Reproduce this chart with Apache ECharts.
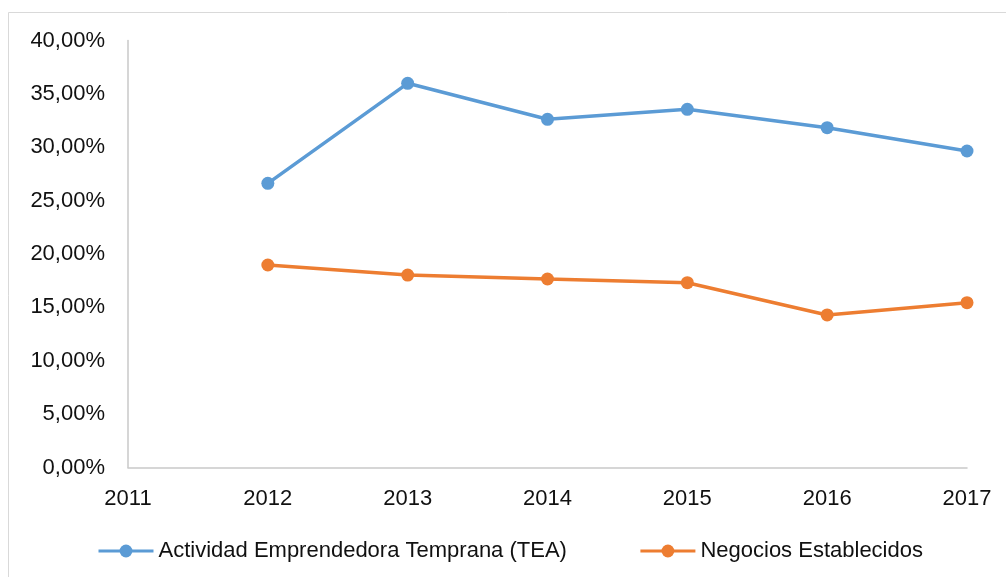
<!DOCTYPE html>
<html>
<head>
<meta charset="utf-8">
<script src="https://cdn.jsdelivr.net/npm/echarts@6/dist/echarts.min.js"></script>
<style>
html,body{margin:0;padding:0;background:#fff;}
#c{width:1006px;height:577px;}
</style>
</head>
<body>
<div id="c"></div>
<script>
const years = ['2011','2012','2013','2014','2015','2016','2017'];
const teaValues = [null, 26.62, 35.99, 32.62, 33.55, 31.83, 29.65];
const negociosValues = [null, 18.97, 18.03, 17.66, 17.31, 14.29, 15.44];
const seriesNames = ['Actividad Emprendedora Temprana (TEA)', 'Negocios Establecidos'];

const FONT = '"Liberation Sans", Arial, sans-serif';
const chart = echarts.init(document.getElementById('c'), null, {renderer:'canvas'});
chart.setOption({
  animation:false,
  backgroundColor:'#fff',
  graphic:[{
    type:'rect', shape:{x:8.5, y:12.5, width:1200, height:800},
    style:{fill:'none', stroke:'#D9D9D9', lineWidth:1}, silent:true, z:-1
  }],
  grid:{left:128, right:39, top:40.5, bottom:109.5, containLabel:false},
  legend:{
    left:92, top:535, itemWidth:55, itemHeight:16, itemGap:72,
    lineStyle:{width:3},
    textStyle:{fontFamily:FONT, fontSize:22, color:'#111'},
    data:seriesNames
  },
  xAxis:{
    type:'category', data:years, boundaryGap:false,
    axisLine:{lineStyle:{color:'#C9C9C9', width:1.5}},
    axisTick:{show:false},
    axisLabel:{margin:20, fontFamily:FONT, fontSize:22, color:'#111'},
    splitLine:{show:false}
  },
  yAxis:{
    type:'value', min:0, max:40, interval:5,
    axisLine:{show:true, lineStyle:{color:'#C9C9C9', width:1.5}},
    axisTick:{show:false},
    splitLine:{show:false},
    axisLabel:{margin:23, fontFamily:FONT, fontSize:22, color:'#111',
      formatter:v => v.toFixed(2).replace('.',',') + '%'}
  },
  series:[
    {name:seriesNames[0], type:'line', data:teaValues, symbol:'circle', symbolSize:13,
     color:'#5B9BD5', lineStyle:{width:3.5, color:'#5B9BD5'}, itemStyle:{color:'#5B9BD5'}},
    {name:seriesNames[1], type:'line', data:negociosValues, symbol:'circle', symbolSize:13,
     color:'#ED7D31', lineStyle:{width:3.5, color:'#ED7D31'}, itemStyle:{color:'#ED7D31'}}
  ]
});
</script>
</body>
</html>
